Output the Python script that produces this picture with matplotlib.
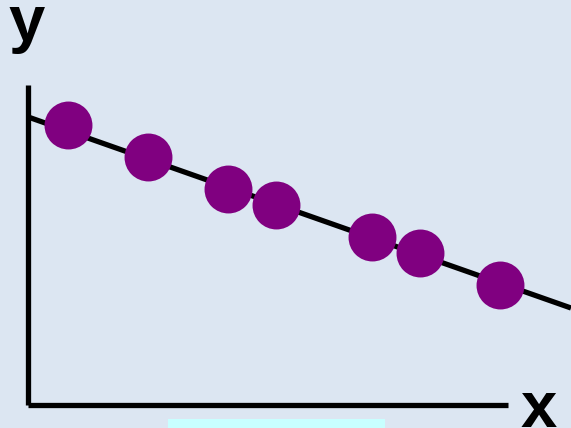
import numpy as np
import matplotlib
matplotlib.use("Agg")
import matplotlib.pyplot as plt
from matplotlib.patches import Rectangle

# points du nuage (unites arbitraires)
pts_x = [0, 5, 10, 13, 19, 22, 27]
pts_y = [10, 8, 6, 5, 3, 2, 0]

# droite de tendance
line_x = [-2.48, 31.45]
line_y = [10.5, -1.44]

# axes dessines a la main
axe_x = [-2.48, 27.5]
axe_y = [-7.5, 12.5]

bg = "#dce6f2"

fig = plt.figure(figsize=(5.71, 4.28), dpi=100, facecolor=bg)
ax = fig.add_axes([0, 0, 1, 1])
ax.set_facecolor(bg)
ax.set_xlim(-4.23, 31.45)
ax.set_ylim(-8.94, 17.81)
ax.axis("off")

ax.plot([axe_x[0], axe_x[0]], [axe_y[0], axe_y[1]], color="black", lw=3.8, solid_capstyle="butt")
ax.plot([axe_x[0], axe_x[1]], [axe_y[0], axe_y[0]], color="black", lw=3.8, solid_capstyle="butt")

ax.plot(line_x, line_y, color="black", lw=3.8, solid_capstyle="butt")
ax.plot(pts_x, pts_y, "o", color="#800080", markersize=34.5, markeredgewidth=0, linestyle="none")

police = ["Liberation Sans", "DejaVu Sans"]
ax.text(-3.71, 15.23, "y", fontsize=47, fontweight="bold", family=police, ha="left", va="baseline")
ax.text(28.3, -8.85, "x", fontsize=47, fontweight="bold", family=police, ha="left", va="baseline")

ax.add_patch(Rectangle((6.27, -8.375), 13.56, -1.2, facecolor="#c8ffff", edgecolor="none"))

fig.savefig("out.png", dpi=100, facecolor=bg)
